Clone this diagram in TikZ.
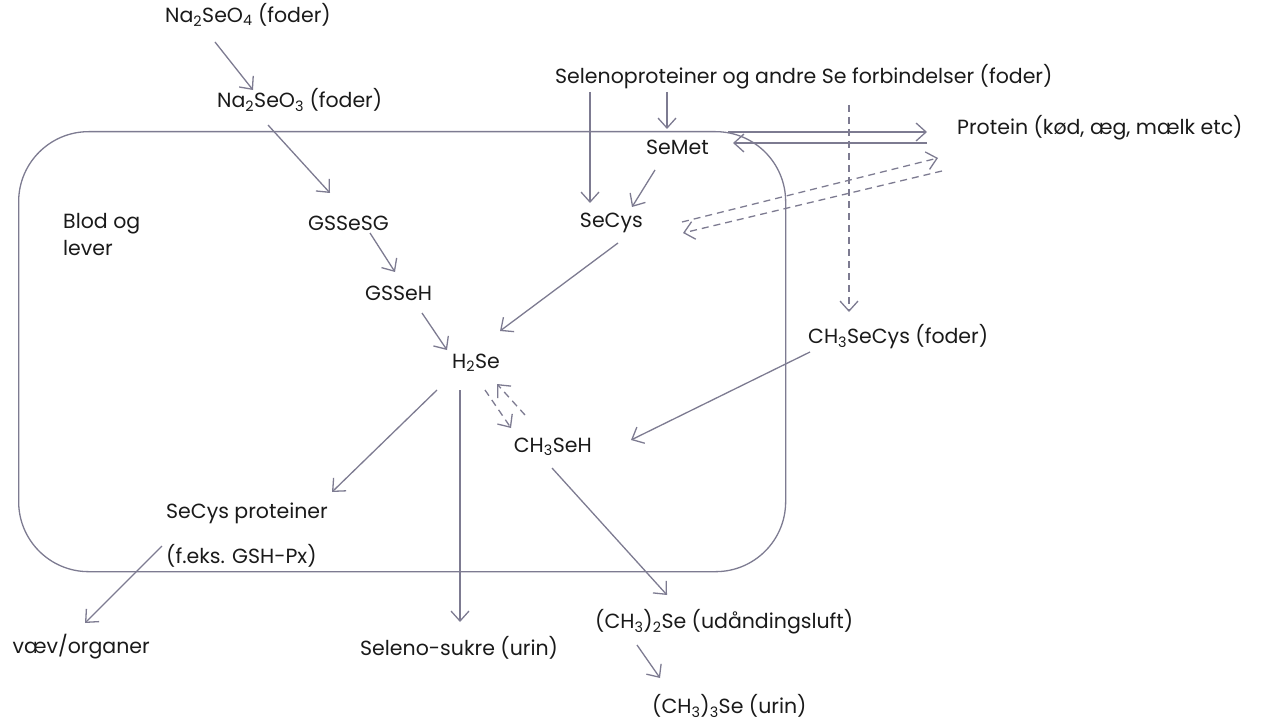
\documentclass[tikz,border=0pt]{standalone}
\usepackage{fontspec}
\setmainfont{Poppins}
\usetikzlibrary{arrows.meta,calc}
\definecolor{ln}{HTML}{7D7B91}
\definecolor{tx}{HTML}{1A1A1A}
\newcommand\chs[1]{\textsubscript{#1}}
\tikzset{
  lbl/.style={inner sep=0pt, text=tx, font=\fontsize{20.5bp}{27bp}\selectfont},
  arr/.style={draw=ln, line width=1.3bp, -{Straight Barb[length=10bp,width=18bp]}},
  darr/.style={arr, dash pattern=on 7bp off 5bp},
}
\begin{document}
\begin{tikzpicture}[x=1bp,y=-1bp]
\useasboundingbox (0,0) rectangle (1261,722);
\node[draw=ln, line width=1.3bp, rounded corners=70bp, minimum width=767bp, minimum height=440bp, inner sep=0pt, anchor=north west] (box) at (18,131) {};

\node[lbl,anchor=west] (na4) at (165,15) {Na\chs{2}SeO\chs{4} (foder)};
\node[lbl,anchor=west] (na3) at (217,100) {Na\chs{2}SeO\chs{3} (foder)};
\node[lbl,anchor=west] (selp) at (555,77) {Selenoproteiner og andre Se forbindelser (foder)};
\node[lbl,anchor=west] (semet) at (646,147) {SeMet};
\node[lbl,anchor=west] (prot) at (957,128) {Protein (kød, æg, mælk etc)};
\node[lbl,anchor=west,align=left] (blod) at (63,234.5) {Blod og\\lever};
\node[lbl,anchor=west] (gssesg) at (308,223) {GSSeSG};
\node[lbl,anchor=east] (secys) at (643,223) {SeCys};
\node[lbl,anchor=west] (gsseh) at (365,293) {GSSeH};
\node[lbl,anchor=west] (h2se) at (452,363) {H\chs{2}Se};
\node[lbl,anchor=west] (ch3secys) at (808,337) {CH\chs{3}SeCys (foder)};
\node[lbl,anchor=east] (ch3seh) at (592,447) {CH\chs{3}SeH};
\node[lbl,anchor=west] (secysp) at (166,513) {SeCys proteiner};
\node[lbl,anchor=west] (feks) at (166,556) {(f.eks. GSH-Px)};
\node[lbl,anchor=east] (vaev) at (150,647) {væv/organer};
\node[lbl,anchor=west] (sukre) at (360,648) {Seleno-sukre (urin)};
\node[lbl,anchor=west] (dms) at (595,622) {(CH\chs{3})\chs{2}Se (udåndingsluft)};
\node[lbl,anchor=west] (tms) at (652,706) {(CH\chs{3})\chs{3}Se (urin)};

\draw[arr] ($(na4.west)+(50,27)$) -- ($(na3.west)+(36,-10)$);
\draw[arr] ($(na3.west)+(51,25)$) -- ($(gssesg.west)+(22,-30)$);
\draw[arr] ($(selp.west)+(112,15)$) -- ($(semet.west)+(21,-18)$);
\draw[arr] ($(selp.west)+(35,15)$) -- ($(secys.east)+(-53,-20)$);
\draw[arr] ($(semet.west)+(82,-15)$) -- ($(prot.west)+(-30,4)$);
\draw[arr] ($(prot.west)+(-30,15)$) -- ($(semet.west)+(87,-4)$);
\draw[arr] ($(semet.west)+(9,23)$) -- ($(secys.east)+(-11,-16)$);
\draw[darr] ($(secys.east)+(39,-1)$) -- ($(prot.west)+(-19,30)$);
\draw[darr] ($(prot.west)+(-15,43)$) -- ($(secys.east)+(40,10)$);
\draw[darr] ($(selp.west)+(294,28)$) -- ($(ch3secys.west)+(41,-25)$);
\draw[arr] ($(secys.east)+(-25,20)$) -- ($(h2se.west)+(48,-32)$);
\draw[arr] ($(gssesg.west)+(62,10)$) -- ($(gsseh.west)+(30,-21)$);
\draw[arr] ($(gsseh.west)+(57,20)$) -- ($(h2se.west)+(-5,-13)$);
\draw[arr] ($(h2se.west)+(-15,27)$) -- ($(secysp.west)+(166,-21)$);
\draw[arr] ($(h2se.west)+(8,27)$) -- ($(sukre.west)+(100,-26)$);
\draw[darr] ($(h2se.west)+(33,27)$) -- ($(ch3seh.east)+(-81,-19)$);
\draw[darr] ($(ch3seh.east)+(-67,-32)$) -- ($(h2se.west)+(45,21)$);
\draw[arr] ($(ch3secys.west)+(2,15)$) -- ($(ch3seh.east)+(39,-7)$);
\draw[arr] ($(ch3seh.east)+(-40,21)$) -- ($(dms.west)+(72,-27)$);
\draw[arr] ($(dms.west)+(42,23)$) -- ($(tms.west)+(8,-28)$);
\draw[arr] ($(feks.west)+(-4,-10)$) -- ($(vaev.east)+(-65,-24)$);
\end{tikzpicture}
\end{document}
